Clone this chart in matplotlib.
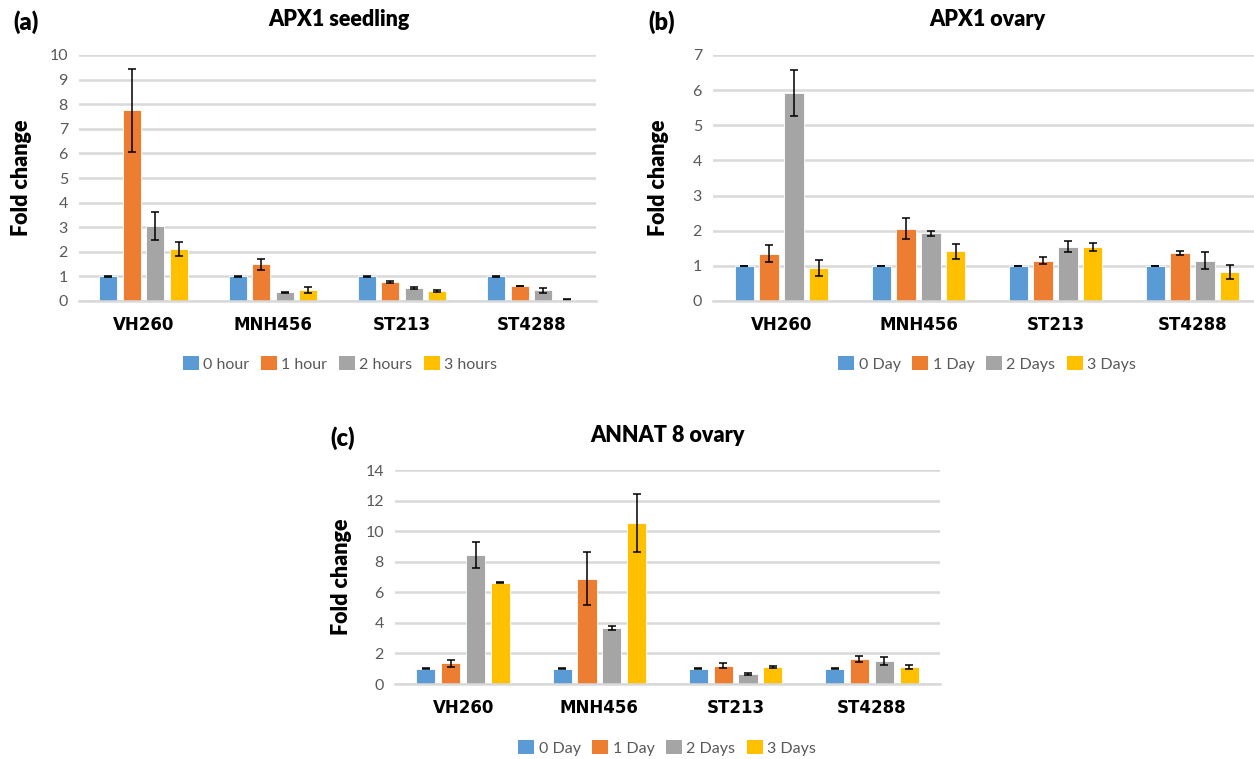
import matplotlib
matplotlib.use("Agg")
import matplotlib.pyplot as plt
import numpy as np
from matplotlib.patches import Patch

plt.rcParams["font.family"] = ["Lato", "DejaVu Sans"]

W, H = 1254, 759

CULTIVARS = ["VH260", "MNH456", "ST213", "ST4288"]
COLORS = ["#5B9BD5", "#ED7D31", "#A5A5A5", "#FFC000"]
HOUR_LABELS = ["0 hour", "1 hour", "2 hours", "3 hours"]
DAY_LABELS = ["0 Day", "1 Day", "2 Days", "3 Days"]

# rows = time point, columns = cultivar
SEEDLING_MEAN = [
    [1.0, 1.0, 1.0, 1.0],
    [7.75, 1.49, 0.77, 0.61],
    [3.04, 0.35, 0.52, 0.43],
    [2.10, 0.43, 0.42, 0.05],
]
SEEDLING_ERR = [
    [0.01, 0.01, 0.01, 0.01],
    [1.70, 0.21, 0.05, 0.02],
    [0.56, 0.02, 0.03, 0.10],
    [0.28, 0.12, 0.04, 0.02],
]

APX_OVARY_MEAN = [
    [1.0, 1.0, 1.0, 1.0],
    [1.35, 2.06, 1.15, 1.36],
    [5.92, 1.93, 1.55, 1.15],
    [0.94, 1.41, 1.54, 0.82],
]
APX_OVARY_ERR = [
    [0.01, 0.01, 0.01, 0.01],
    [0.25, 0.30, 0.11, 0.05],
    [0.66, 0.07, 0.15, 0.25],
    [0.22, 0.21, 0.12, 0.20],
]

ANNAT_MEAN = [
    [1.0, 1.0, 1.0, 1.0],
    [1.35, 6.90, 1.20, 1.61],
    [8.45, 3.68, 0.65, 1.48],
    [6.64, 10.54, 1.11, 1.11],
]
ANNAT_ERR = [
    [0.02, 0.02, 0.02, 0.02],
    [0.24, 1.71, 0.15, 0.20],
    [0.83, 0.13, 0.04, 0.26],
    [0.02, 1.90, 0.05, 0.12],
]

TICK_GREY = "#595959"
GRID_GREY = "#D9D9D9"


def px_axes(fig, left, right, top, bottom):
    return fig.add_axes([left / W, 1 - bottom / H, (right - left) / W, (bottom - top) / H])


def draw_panel(fig, box, means, errs, ymax, ystep, labels, title, tag,
               title_xy, tag_xy, ylab_xy, legend_xy):
    ax = px_axes(fig, *box)
    x = np.arange(len(CULTIVARS))
    step, width = 0.182, 0.14
    for i in range(4):
        ax.bar(x + (i - 1.5) * step, means[i], width, color=COLORS[i],
               edgecolor="white", linewidth=0.6, zorder=3)
        ax.errorbar(x + (i - 1.5) * step, means[i], yerr=errs[i], fmt="none",
                    ecolor="black", elinewidth=1.1, capsize=2.7, capthick=1.1,
                    zorder=4)
    ax.set_xlim(-0.5, 3.5)
    ax.set_ylim(0, ymax)
    ax.set_yticks(np.arange(0, ymax + 0.01, ystep))
    ax.yaxis.grid(True, color=GRID_GREY, lw=1.8, zorder=0)
    ax.set_axisbelow(True)
    for s in ("top", "right", "left"):
        ax.spines[s].set_visible(False)
    ax.spines["bottom"].set_color(GRID_GREY)
    ax.spines["bottom"].set_linewidth(1.8)
    ax.spines["bottom"].set_zorder(5)
    ax.set_xticks(x)
    ax.set_xticklabels(CULTIVARS, fontsize=12, fontweight="bold",
                       family="DejaVu Sans")
    ax.tick_params(axis="x", length=0, pad=11)
    ax.tick_params(axis="y", length=0, pad=8, labelsize=11.5, labelcolor=TICK_GREY)

    fig.text(title_xy[0] / W, 1 - title_xy[1] / H, title, fontsize=15.5,
             fontweight="heavy", ha="center", va="center")
    fig.text(tag_xy[0] / W, 1 - tag_xy[1] / H, tag, fontsize=17,
             fontweight="heavy", ha="center", va="center")
    fig.text(ylab_xy[0] / W, 1 - ylab_xy[1] / H, "Fold change", fontsize=15.5,
             fontweight="heavy", ha="center", va="center", rotation=90)

    handles = [Patch(facecolor=c, edgecolor="none") for c in COLORS]
    fig.legend(handles, labels, loc="center", ncol=4, frameon=False,
               bbox_to_anchor=(legend_xy[0] / W, 1 - legend_xy[1] / H),
               fontsize=11.5, labelcolor=TICK_GREY, handlelength=1.0,
               handleheight=1.0, handletextpad=0.3, columnspacing=0.7)
    return ax


fig = plt.figure(figsize=(W / 100, H / 100), dpi=100)

draw_panel(fig, (79, 596, 55, 301), SEEDLING_MEAN, SEEDLING_ERR, 10, 1,
           HOUR_LABELS, "APX1 seedling", "(a)",
           (339, 20), (26, 22), (22, 178), (340, 364))
draw_panel(fig, (713, 1261, 55, 301), APX_OVARY_MEAN, APX_OVARY_ERR, 7, 1,
           DAY_LABELS, "APX1 ovary", "(b)",
           (987, 20), (662, 22), (659, 178), (987, 364))
draw_panel(fig, (395, 940, 470, 684), ANNAT_MEAN, ANNAT_ERR, 14, 2,
           DAY_LABELS, "ANNAT 8 ovary", "(c)",
           (668, 435), (343, 438), (342, 577), (667, 748))

fig.savefig("out.png", dpi=100)
